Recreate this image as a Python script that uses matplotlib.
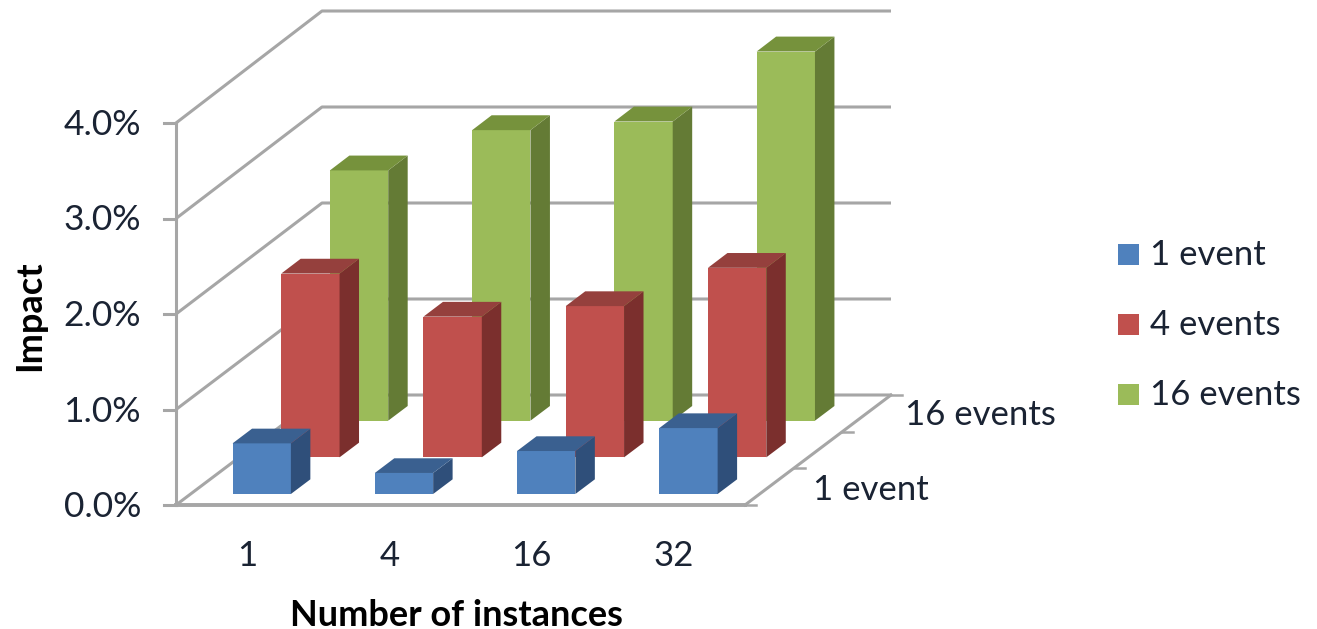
import matplotlib
matplotlib.use("Agg")
import matplotlib.pyplot as plt
from matplotlib.patches import Polygon, Rectangle

plt.rcParams['font.family'] = ['Lato', 'DejaVu Sans']

instances = ['1', '4', '16', '32']
series_names = ['1 event', '4 events', '16 events']
events_1 = [0.53, 0.22, 0.45, 0.69]
events_4 = [1.92, 1.47, 1.58, 1.98]
events_16 = [2.61, 3.03, 3.12, 3.85]
y_ticks = [0, 1, 2, 3, 4]

# oblique projection of the chart box, in figure pixels
X0, Y0 = 176, 505
PER_CAT = 142.25
PER_PCT = 95.5
DEPTH_DX, DEPTH_DY = 146, -110

GRID = '#a6a6a6'
TEXT = '#1a2333'
colors = [('#4f81bd', '#3a6090', '#2f4f7a'),
          ('#c0504d', '#95403d', '#7b2f2d'),
          ('#9bbb59', '#76923c', '#647b35')]


def project(cat, depth, value):
  """ cat in categories, depth in 0..1 front to back, value in percent """
  return (X0 + cat * PER_CAT + depth * DEPTH_DX,
          Y0 - value * (PER_PCT + 0.5 * depth) + depth * DEPTH_DY)


def draw_bar(ax, cat, series, value, cols):
  front, top, side = cols
  c0, c1 = cat + 0.295, cat + 0.705
  d0 = (series + 0.3) / 3
  d1 = (series + 0.7) / 3
  ax.add_patch(Polygon([project(c0, d0, 0), project(c1, d0, 0),
                        project(c1, d0, value), project(c0, d0, value)],
                       fc=front, ec='none', zorder=3))
  ax.add_patch(Polygon([project(c1, d0, 0), project(c1, d1, 0),
                        project(c1, d1, value), project(c1, d0, value)],
                       fc=side, ec='none', zorder=3))
  ax.add_patch(Polygon([project(c0, d0, value), project(c1, d0, value),
                        project(c1, d1, value), project(c0, d1, value)],
                       fc=top, ec='none', zorder=3))


fig = plt.figure(figsize=(13.17, 6.29), dpi=100)
ax = fig.add_axes([0, 0, 1, 1])
ax.set_xlim(0, 1317)
ax.set_ylim(629, 0)
ax.axis('off')

n_cat = len(instances)

# walls and floor
for v in y_ticks:
  pts = [project(0, 0, v), project(0, 1, v), project(n_cat, 1, v)]
  ax.plot(*zip(*pts), color=GRID, lw=2.2, zorder=1, solid_capstyle='butt')
  x, y = project(0, 0, v)
  ax.plot([x - 12, x], [y, y], color=GRID, lw=2.2, zorder=1)
  ax.text(x - 35, y + 2, f'{v:.1f}%', ha='right', va='center',
          fontsize=25.5, color=TEXT)

ax.plot(*zip(project(0, 0, 0), project(0, 0, y_ticks[-1])), color=GRID, lw=2.2, zorder=1)
ax.plot(*zip(project(0, 0, 0), project(n_cat, 0, 0)), color=GRID, lw=2.8, zorder=1)
ax.plot(*zip(project(n_cat, 0, 0), project(n_cat, 1, 0)), color=GRID, lw=2.2, zorder=1)

# depth axis ticks
for i in range(4):
  x, y = project(n_cat, i / 3, 0)
  ax.plot([x, x + 11], [y, y], color=GRID, lw=1.8, zorder=1)

# back row first so the nearer bars cover it
rows = [events_1, events_4, events_16]
for s in [2, 1, 0]:
  for c, v in enumerate(rows[s]):
    draw_bar(ax, c, s, v, colors[s])

for c, name in enumerate(instances):
  x, _ = project(c + 0.5, 0, 0)
  ax.text(x, 556, name, ha='center', va='center', fontsize=25, color=TEXT)

ax.text(813, 490, series_names[0], ha='left', va='center', fontsize=25, color=TEXT)
ax.text(905, 415, series_names[2], ha='left', va='center', fontsize=25, color=TEXT)

ax.text(456, 615, 'Number of instances', ha='center', va='center',
        fontsize=26, fontweight='bold', color='black')
ax.text(30, 316, 'Impact', rotation=90, ha='center', va='center',
        fontsize=26, fontweight='bold', color='black')

# legend
for i, name in enumerate(series_names):
  y = 254 + i * 70
  ax.add_patch(Rectangle((1118, y - 10), 21, 21, fc=colors[i][0], ec='none'))
  ax.text(1150, y + 1, name, ha='left', va='center', fontsize=25, color=TEXT)

fig.savefig('out.png', dpi=100)
